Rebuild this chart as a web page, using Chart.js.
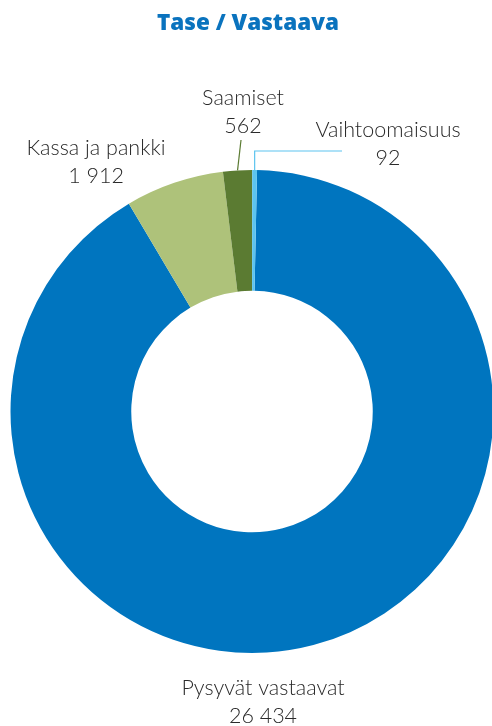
<!DOCTYPE html>
<html>
<head>
<meta charset="utf-8">
<script src="https://cdn.jsdelivr.net/npm/chart.js@4.4.1/dist/chart.umd.min.js"></script>
<style>
  html, body { margin: 0; padding: 0; background: #fff; overflow: hidden; }
  #wrap { position: relative; width: 500px; height: 726px; }
</style>
</head>
<body>
<div id="wrap"><canvas id="taseChart"></canvas></div>
<script>
// Tase / Vastaava
const labels = ['Pysyvät vastaavat', 'Kassa ja pankki', 'Saamiset', 'Vaihtoomaisuus'];
const values = [26434, 1912, 562, 92];
const colors = ['#0075bf', '#aec27a', '#5b7b32', '#5cc4ef'];

// label placement (center x, top line baseline)
const labelSpots = [
    { x: 263, y: 695 },
    { x: 96, y: 155 },
    { x: 243, y: 105 },
    { x: 388, y: 137 }
];

function fmt(n) {
    return String(n).replace(/\B(?=(\d{3})+(?!\d))/g, ' ');
}

const labelPlugin = {
    id: 'sliceLabels',
    afterDraw(chart) {
        const ctx = chart.ctx;
        const meta = chart.getDatasetMeta(0);
        ctx.save();

        // title
        ctx.fillStyle = '#0a73be';
        ctx.font = '900 22.5px "Open Sans"';
        ctx.textAlign = 'center';
        ctx.textBaseline = 'alphabetic';
        ctx.fillText('Tase / Vastaava', 248, 30);

        // leader lines for the thin slices
        meta.data.forEach((arc, i) => {
            const p = arc.getProps(['x', 'y', 'startAngle', 'endAngle', 'outerRadius'], true);
            const mid = (p.startAngle + p.endAngle) / 2;
            const ox = p.x + Math.cos(mid) * p.outerRadius;
            const oy = p.y + Math.sin(mid) * p.outerRadius;
            ctx.lineWidth = 1.2;
            if (i === 2) {
                ctx.strokeStyle = colors[i];
                ctx.beginPath();
                ctx.moveTo(ox, oy);
                ctx.lineTo(241, 140);
                ctx.stroke();
            } else if (i === 3) {
                ctx.strokeStyle = colors[i];
                ctx.beginPath();
                ctx.moveTo(ox, oy);
                ctx.lineTo(ox, 151);
                ctx.lineTo(342, 151);
                ctx.stroke();
            }
        });

        ctx.fillStyle = '#2a2a2a';
        ctx.font = '300 21.5px Lato';
        labels.forEach((name, i) => {
            const s = labelSpots[i];
            ctx.fillText(name, s.x, s.y);
            ctx.fillText(fmt(values[i]), s.x, s.y + 28);
        });
        ctx.restore();
    }
};

const ctxTase = document.getElementById('taseChart').getContext('2d');

new Chart(ctxTase, {
    type: 'doughnut',
    data: {
        labels: labels,
        datasets: [{
            data: values,
            backgroundColor: colors,
            borderWidth: 0,
            hoverOffset: 0
        }]
    },
    options: {
        responsive: true,
        maintainAspectRatio: false,
        animation: false,
        cutout: '50%',
        rotation: 1.2,
        layout: {
            padding: { left: 10, right: 6, top: 170, bottom: 73 }
        },
        plugins: {
            legend: { display: false },
            tooltip: { enabled: false },
            title: { display: false }
        }
    },
    plugins: [labelPlugin]
});
</script>
</body>
</html>
